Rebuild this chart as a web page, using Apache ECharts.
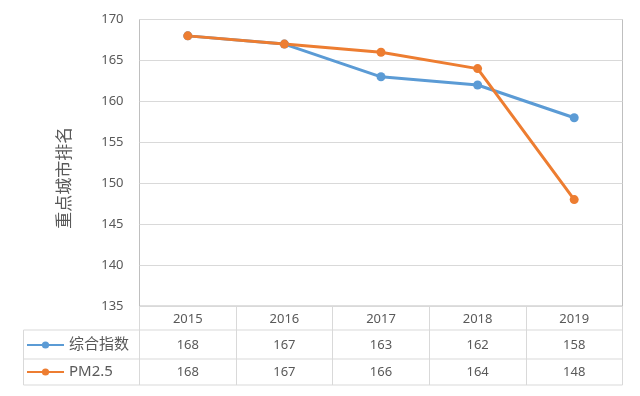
<!DOCTYPE html>
<html><head><meta charset="utf-8">
<script src="https://cdn.jsdelivr.net/npm/echarts@6/dist/echarts.min.js"></script>
<style>html,body{margin:0;padding:0;background:#fff}#c{width:640px;height:396px}</style>
</head><body><div id="c"></div>
<script>
var categories = ['2015','2016','2017','2018','2019'];
var seriesNames = ['综合指数','PM2.5'];
var compositeIndex = [168,167,163,162,158];
var pm25 = [168,167,166,164,148];
var yTicks = {min:135, max:170, interval:5};

var L = 139.5, R = 622.5, T = 19.5, B = 306, W = 640;
var rowH1 = 330, rowH2 = 359, rowH3 = 385, tblLeft = 23.5;
var lineColor = '#d9d9d9';
var font = "'Noto Sans','Noto Sans CJK SC',sans-serif";
var chart = echarts.init(document.getElementById('c'));

function hline(y){return {type:'line',shape:{x1:tblLeft,y1:y,x2:R,y2:y},style:{stroke:lineColor,lineWidth:1},silent:true};}

var labelStyle = {color:'#595959', fontSize:13, fontFamily:font, verticalAlign:'middle'};
function tableAxis(data, margin, ticks){
  return {type:'category', data:data, position:'bottom', offset:0, boundaryGap:true,
    axisLine:{show:false},
    axisTick:{show:ticks, length:79, lineStyle:{color:lineColor}},
    axisLabel:Object.assign({margin:margin, interval:0}, labelStyle),
    splitLine:{show:false}};
}

chart.setOption({
  animation:false,
  grid:{left:L, right:W-R, top:T, bottom:396-B, show:true, borderColor:'#bfbfbf', borderWidth:1, backgroundColor:'transparent'},
  xAxis:[
    tableAxis(categories, 13, true),
    tableAxis(compositeIndex.map(String), 39, false),
    tableAxis(pm25.map(String), 66, false)
  ],
  yAxis:{type:'value', min:yTicks.min, max:yTicks.max, interval:yTicks.interval,
    axisLine:{show:false}, axisTick:{show:false},
    axisLabel:{color:'#595959', fontSize:13, fontFamily:font, margin:16},
    splitLine:{lineStyle:{color:lineColor, width:1}},
    name:'重点城市排名', nameLocation:'middle', nameGap:66, nameRotate:90,
    nameTextStyle:{color:'#595959', fontSize:17, fontFamily:font, padding:[0,30,0,0]}},
  legend:[
    {data:[seriesNames[0]], left:26, top:337, itemWidth:37, itemHeight:9, padding:0,
     textStyle:{color:'#595959', fontSize:15, fontFamily:font, lineHeight:16}},
    {data:[seriesNames[1]], left:26, top:364, itemWidth:37, itemHeight:9, padding:0,
     textStyle:{color:'#595959', fontSize:15, fontFamily:font, lineHeight:16}}
  ],
  graphic:[hline(rowH1), hline(rowH2), hline(rowH3),
    {type:'line',shape:{x1:tblLeft,y1:rowH1,x2:tblLeft,y2:rowH3},style:{stroke:lineColor,lineWidth:1},silent:true}],
  series:[
    {name:seriesNames[0], type:'line', data:compositeIndex, symbol:'circle', symbolSize:9,
     color:'#5B9BD5', lineStyle:{width:3, color:'#5B9BD5'}, itemStyle:{color:'#5B9BD5'}},
    {name:seriesNames[1], type:'line', data:pm25, symbol:'circle', symbolSize:9,
     color:'#ED7D31', lineStyle:{width:3, color:'#ED7D31'}, itemStyle:{color:'#ED7D31'}}
  ]
});
</script></body></html>
